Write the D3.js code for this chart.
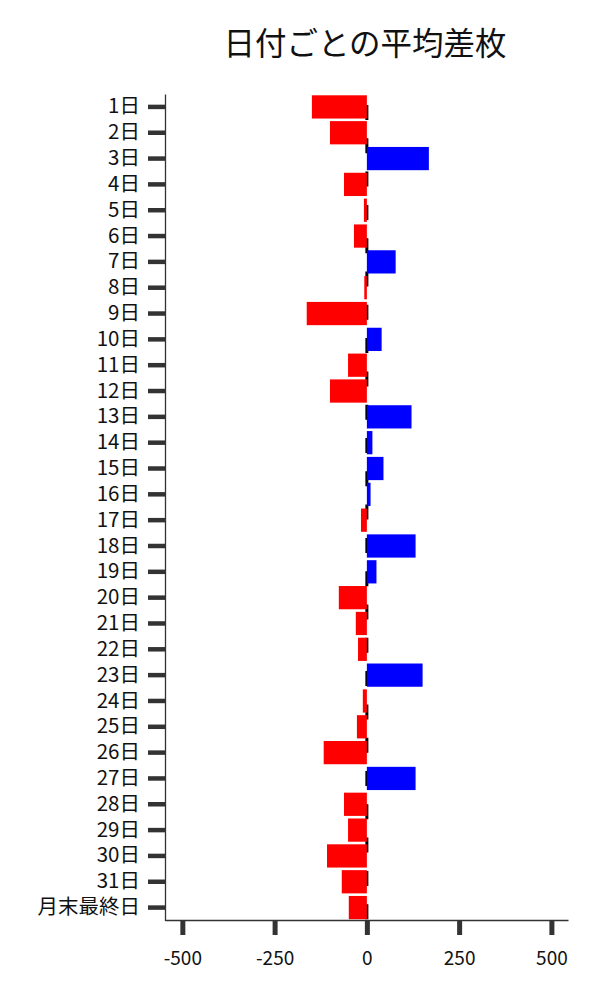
<!DOCTYPE html>
<html>
<head>
<meta charset="utf-8">
<script src="https://cdn.jsdelivr.net/npm/d3@7"></script>
<style>
  body { margin: 0; background: #fff; }
  text { font-family: "Noto Sans CJK JP", "Noto Sans", sans-serif; }
</style>
</head>
<body>
<div id="chart"></div>
<script>
// データ
const days = [
  "1日", "2日", "3日", "4日", "5日", "6日", "7日", "8日", "9日", "10日",
  "11日", "12日", "13日", "14日", "15日", "16日", "17日", "18日", "19日", "20日",
  "21日", "22日", "23日", "24日", "25日", "26日", "27日", "28日", "29日", "30日",
  "31日", "月末最終日"
];
const avgDiff = [
  -149, -100, 168, -62, -8, -35, 78, -7, -163, 40,
  -51, -100, 121, 15, 45, 10, -16, 132, 26, -76,
  -30, -24, 151, -11, -27, -117, 132, -62, -51, -108,
  -68, -49
];
const xTicks = [-500, -250, 0, 250, 500];
const title = "日付ごとの平均差枚";

const W = 600, H = 1000;
const margin = { top: 94, right: 32, bottom: 80, left: 165 };

const svg = d3.select("#chart").append("svg")
  .attr("width", W)
  .attr("height", H);

const x = d3.scaleLinear()
  .domain([-547, 545])
  .range([margin.left, W - margin.right]);

const y = d3.scaleBand()
  .domain(days)
  .range([margin.top, H - margin.bottom + 0.5])
  .paddingInner(0.1)
  .paddingOuter(0.05);

// 0の破線（棒の下）
svg.append("line")
  .attr("x1", x(0)).attr("x2", x(0))
  .attr("y1", margin.top).attr("y2", H - margin.bottom)
  .attr("stroke", "#000")
  .attr("stroke-width", 3)
  .attr("stroke-dasharray", "15,18.3")
  .attr("stroke-dashoffset", 22.3);

// 棒
svg.append("g").selectAll("rect")
  .data(days.map((d, i) => ({ day: d, v: avgDiff[i] })))
  .enter()
  .append("rect")
  .attr("x", d => x(Math.min(0, d.v)))
  .attr("y", d => y(d.day))
  .attr("width", d => Math.abs(x(d.v) - x(0)))
  .attr("height", y.bandwidth())
  .attr("fill", d => d.v >= 0 ? "#0000ff" : "#ff0000");

// 軸
const yAxis = svg.append("g")
  .attr("transform", `translate(${margin.left},0)`)
  .call(d3.axisLeft(y).tickSize(17).tickSizeOuter(0).tickPadding(8));

const xAxis = svg.append("g")
  .attr("transform", `translate(0,${H - margin.bottom})`)
  .call(d3.axisBottom(x).tickValues(xTicks).tickFormat(d => String(d))
    .tickSize(15).tickSizeOuter(0).tickPadding(17));

[yAxis, xAxis].forEach(g => {
  g.select(".domain").attr("stroke", "#333").attr("stroke-width", 1.3);
  g.selectAll(".tick text").attr("fill", "#111");
});
yAxis.selectAll(".tick line").attr("stroke", "#333").attr("stroke-width", 4.5);
xAxis.selectAll(".tick line").attr("stroke", "#333").attr("stroke-width", 5);
yAxis.selectAll(".tick text").style("font-size", "20.5px");
xAxis.selectAll(".tick text").style("font-size", "19px");

// タイトル
svg.append("text")
  .attr("x", 365)
  .attr("y", 55)
  .attr("text-anchor", "middle")
  .style("font-size", "31.5px")
  .attr("fill", "#111")
  .text(title);
</script>
</body>
</html>
